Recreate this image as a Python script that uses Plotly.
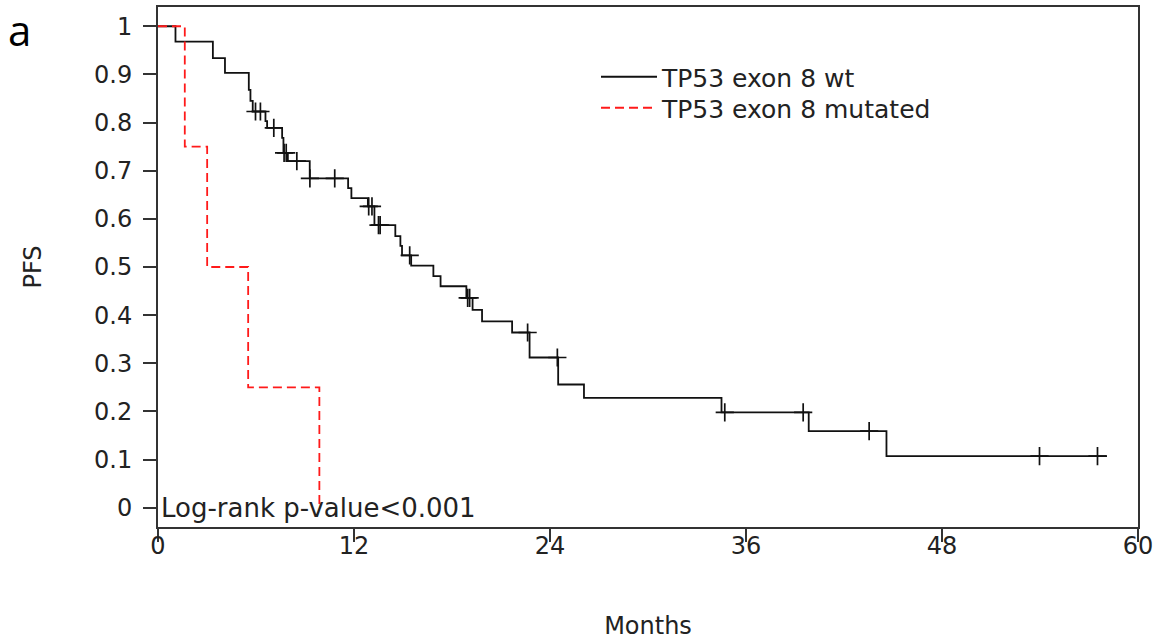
import numpy as np
import plotly.graph_objects as go

# ---- data (months, PFS) ----
wt_times = [0, 1.07, 3.36, 4.10, 5.56, 5.66, 5.80, 6.58, 6.68, 7.60, 7.68, 7.95,
            9.29, 11.64, 11.84, 12.85, 13.25, 14.53, 14.84, 14.94, 15.50, 16.86,
            17.30, 18.88, 19.26, 19.84, 21.68, 22.75, 24.50, 26.08, 34.50, 39.84,
            44.60, 58.10]
wt_surv = [1.0, 0.968, 0.934, 0.903, 0.868, 0.845, 0.823, 0.803, 0.789, 0.768,
           0.737, 0.720, 0.684, 0.664, 0.643, 0.626, 0.587, 0.564, 0.544, 0.524,
           0.503, 0.481, 0.460, 0.436, 0.411, 0.387, 0.364, 0.312, 0.256, 0.228,
           0.198, 0.159, 0.107, 0.107]
wt_censor_times = [5.97, 6.27, 7.09, 7.72, 7.85, 8.50, 9.30, 10.82, 12.90, 13.10,
                   13.50, 13.60, 15.41, 18.96, 19.08, 22.63, 24.45, 34.70, 39.50,
                   43.54, 53.97, 57.52]

mut_times = [0, 1.64, 3.01, 5.52, 9.88]
mut_surv = [1.0, 0.75, 0.50, 0.25, 0.0]

x_ticks = [0, 12, 24, 36, 48, 60]
y_ticks = [0, 0.1, 0.2, 0.3, 0.4, 0.5, 0.6, 0.7, 0.8, 0.9, 1]
y_ticktext = ["0", "0.1", "0.2", "0.3", "0.4", "0.5", "0.6", "0.7", "0.8", "0.9", "1"]

series_names = ["TP53 exon 8 wt", "TP53 exon 8 mutated"]
pvalue_text = "Log-rank p-value<0.001"

# survival at censor times via step lookup
wt_t = np.array(wt_times)
wt_s = np.array(wt_surv)
idx = np.searchsorted(wt_t, np.array(wt_censor_times), side="right") - 1
censor_surv = wt_s[idx]

FONT = "DejaVu Sans"
FS = 24
W, H = 1157, 640
ML, MR, MT, MB = 158, 19, 7, 113
PW, PH = W - ML - MR, H - MT - MB
TXT = "#222222"


def px_x(p):
    return (p - ML) / PW


def px_y(p):
    return 1 - (p - MT) / PH


fig = go.Figure()
fig.add_trace(go.Scatter(
    x=wt_times, y=wt_surv, mode="lines", line_shape="hv",
    line=dict(color="#111111", width=1.8), name=series_names[0], legend="legend"))
fig.add_trace(go.Scatter(
    x=mut_times, y=mut_surv, mode="lines", line_shape="hv",
    line=dict(color="#ff1a1a", width=1.8, dash="9px,5px"), name=series_names[1],
    legend="legend2"))
fig.add_trace(go.Scatter(
    x=wt_censor_times, y=censor_surv, mode="markers", showlegend=False,
    marker=dict(symbol="cross-thin", size=13, line=dict(color="#111111", width=1.7)),
    hoverinfo="skip"))

axis_common = dict(showline=True, mirror=True, linecolor="#333333", linewidth=2,
                   ticks="outside", ticklen=13, tickwidth=1.5, tickcolor="#333333",
                   showgrid=False, zeroline=False, automargin=False,
                   tickfont=dict(family=FONT, size=FS, color=TXT))

fig.update_xaxes(range=[0, 60], tickvals=x_ticks, ticktext=[str(v) for v in x_ticks],
                 ticklabelstandoff=-17,
                 title=dict(text="Months", font=dict(family=FONT, size=FS, color=TXT),
                            standoff=66),
                 **axis_common)
fig.update_yaxes(range=[-0.04, 1.04], tickvals=y_ticks, ticktext=y_ticktext,
                 ticklabelstandoff=6,
                 title=dict(text="PFS", font=dict(family=FONT, size=FS, color=TXT),
                            standoff=46),
                 **axis_common)

fig.add_annotation(x=0, y=0, xref="x", yref="y", text=pvalue_text, showarrow=False,
                   xanchor="left", yanchor="middle", xshift=1,
                   font=dict(family=FONT, size=26, color=TXT))
fig.add_annotation(x=px_x(19), y=px_y(30), xref="paper", yref="paper", text="a",
                   showarrow=False, xanchor="center", yanchor="middle",
                   font=dict(family="Open Sans", size=42, color="#000000"))

leg_common = dict(xanchor="left", yanchor="middle", bgcolor="rgba(0,0,0,0)",
                  borderwidth=0, itemwidth=56,
                  font=dict(family=FONT, size=FS + 1, color=TXT))

fig.update_layout(
    width=W, height=H,
    margin=dict(l=ML, r=MR, t=MT, b=MB),
    paper_bgcolor="white", plot_bgcolor="white",
    showlegend=True,
    legend=dict(x=px_x(596), y=px_y(77), **leg_common),
    legend2=dict(x=px_x(596), y=px_y(108), **leg_common),
)

fig.write_html("out.html", config={"displayModeBar": False},
               post_script="document.body.style.margin='0';")
